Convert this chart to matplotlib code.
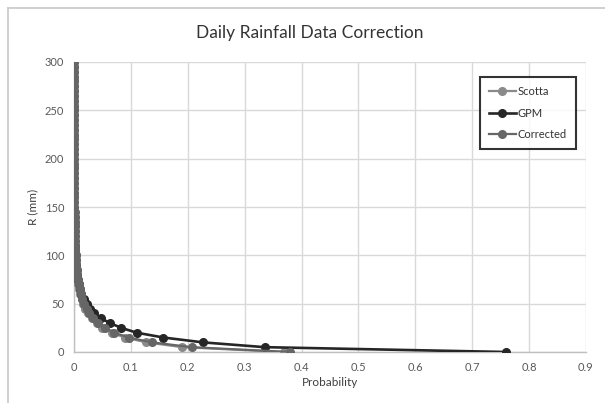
import matplotlib
matplotlib.use("Agg")
import matplotlib.pyplot as plt
from matplotlib.lines import Line2D

plt.rcParams['font.family'] = ['Lato', 'DejaVu Sans']

# Rainfall thresholds (mm)
R = [0, 5, 10, 15, 20, 25, 30, 35, 40, 45, 50, 55, 60, 65, 70, 75, 80, 85, 90, 95,
     100, 105, 110, 115, 120, 125, 130, 135, 140, 145, 150, 155, 160, 165, 170, 175,
     180, 185, 190, 195, 200, 205, 210, 215, 220, 225, 230, 235, 240, 245, 250, 255,
     260, 265, 270, 275, 280, 285, 290, 295, 300]

scotta = [0.370, 0.190, 0.127, 0.089, 0.066, 0.050, 0.040, 0.032, 0.025, 0.020, 0.0165,
          0.0135, 0.011, 0.009, 0.0075, 0.0062, 0.0052, 0.0044, 0.0037, 0.0031, 0.0027,
          0.0023, 0.0019, 0.0016, 0.0014, 0.0012, 0.0011, 0.0010, 0.0009, 0.0008, 0.0007,
          0.00065, 0.0006, 0.00055, 0.0005, 0.00045, 0.0004, 0.00036, 0.00033, 0.0003, 0.00027,
          0.00025, 0.00023, 0.00021, 0.0002, 0.00018, 0.00017, 0.00016, 0.00015, 0.00014, 0.00013,
          0.00012, 0.00011, 0.0001, 0.00009, 0.00008, 0.00007, 0.00006, 0.00005, 0.00004, 0.00003]

R_gpm = [0, 5, 10, 15, 20, 25, 30, 35, 40, 45, 50, 55, 60, 65, 70, 75, 80, 85, 90, 95,
         100, 105, 110, 115, 120, 125, 130, 135, 140]
gpm = [0.760, 0.335, 0.226, 0.157, 0.110, 0.083, 0.063, 0.047, 0.036, 0.028, 0.022,
       0.017, 0.013, 0.010, 0.008, 0.0062, 0.0048, 0.0037, 0.0029, 0.0022, 0.0017,
       0.0013, 0.0010, 0.0008, 0.0006, 0.00045, 0.0003, 0.0002, 0.0001]

corrected = [0.380, 0.207, 0.137, 0.096, 0.071, 0.054, 0.043, 0.034, 0.027, 0.022, 0.018,
             0.0145, 0.012, 0.0098, 0.0081, 0.0067, 0.0056, 0.0047, 0.0040, 0.0034, 0.0029,
             0.0025, 0.0021, 0.0018, 0.0016, 0.0014, 0.0012, 0.0011, 0.0010, 0.0009, 0.0008,
             0.0007, 0.00065, 0.0006, 0.00055, 0.0005, 0.00045, 0.0004, 0.00037, 0.00034, 0.0003,
             0.00028, 0.00026, 0.00024, 0.00022, 0.0002, 0.00019, 0.00018, 0.00017, 0.00016, 0.00015,
             0.00014, 0.00013, 0.00012, 0.00011, 0.0001, 0.00009, 0.00008, 0.00007, 0.00006, 0.00005]

xticks = [0, 0.1, 0.2, 0.3, 0.4, 0.5, 0.6, 0.7, 0.8, 0.9]
xticklabels = ['0', '0.1', '0.2', '0.3', '0.4', '0.5', '0.6', '0.7', '0.8', '0.9']
yticks = [0, 50, 100, 150, 200, 250, 300]

fig = plt.figure(figsize=(6.05, 4.03), dpi=100)
ax = fig.add_axes([74/605, 1-352/403, 512/605, 290/403])

# outer frame lines (top and left)
fig.add_artist(Line2D([8/605, 1], [1-8/403, 1-8/403], transform=fig.transFigure, color='#c8c8c8', lw=1.2))
fig.add_artist(Line2D([8/605, 8/605], [0, 1-8/403], transform=fig.transFigure, color='#c8c8c8', lw=1.2))

ax.plot(scotta, R, color='#8a8a8a', lw=1.6, marker='o', ms=5.5, label='Scotta', zorder=3)
ax.plot(gpm, R_gpm, color='#262626', lw=1.9, marker='o', ms=5.5, label='GPM', zorder=4)
ax.plot(corrected, R, color='#666666', lw=1.6, marker='o', ms=5.5, label='Corrected', zorder=5)

ax.set_xlim(0, 0.9)
ax.set_ylim(0, 300)
ax.set_xticks(xticks)
ax.set_xticklabels(xticklabels)
ax.set_yticks(yticks)
ax.grid(True, color='#d9d9d9', lw=1)
ax.set_axisbelow(True)
for s in ['top', 'right']:
    ax.spines[s].set_visible(False)
for s in ['left', 'bottom']:
    ax.spines[s].set_color('#bfbfbf')
    ax.spines[s].set_linewidth(1)
ax.tick_params(length=0, labelsize=8, labelcolor='#595959', pad=7)

ax.set_xlabel('Probability', fontsize=8.5, color='#404040', labelpad=3)
ax.set_ylabel('R (mm)', fontsize=8.5, color='#404040', labelpad=5)
fig.text(310/605, 1-33/403, 'Daily Rainfall Data Correction', ha='center', va='center',
         fontsize=12.5, color='#333333')

leg = ax.legend(loc='upper right', bbox_to_anchor=(0.980, 0.948), borderaxespad=0,
                fontsize=8, frameon=True, fancybox=False, handlelength=2.4,
                labelspacing=0.95, borderpad=0.8, handletextpad=0.2)
leg.get_frame().set_edgecolor('black')
leg.get_frame().set_linewidth(1.5)
for t in leg.get_texts():
    t.set_color('#333333')

fig.savefig('out.png', dpi=100)
